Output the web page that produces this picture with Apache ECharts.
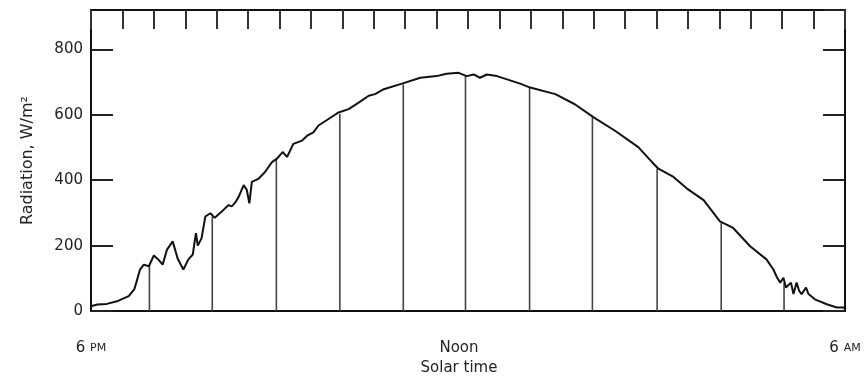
<!DOCTYPE html>
<html>
<head>
<meta charset="utf-8">
<script src="https://cdn.jsdelivr.net/npm/echarts@6/dist/echarts.min.js"></script>
<style>
html,body{margin:0;padding:0;background:#fff;}
#chart{width:864px;height:381px;}
</style>
</head>
<body>
<div id="chart"></div>
<script>
// Solar time in hours after the left edge (6 PM label) and measured radiation, W/m2
const hours = [0, 0.10, 0.25, 0.43, 0.60, 0.69, 0.74, 0.78, 0.84, 0.92, 1.00, 1.07, 1.14, 1.21, 1.30, 1.38, 1.47, 1.55, 1.62, 1.67, 1.70, 1.76, 1.82, 1.90, 1.97, 2.08, 2.19, 2.24, 2.30, 2.35, 2.43, 2.48, 2.52, 2.56, 2.67, 2.77, 2.88, 2.96, 3.05, 3.12, 3.22, 3.36, 3.44, 3.54, 3.62, 3.78, 3.94, 4.10, 4.26, 4.42, 4.52, 4.66, 4.95, 5.24, 5.50, 5.66, 5.85, 5.98, 6.09, 6.19, 6.30, 6.46, 6.67, 6.83, 6.99, 7.39, 7.70, 8.00, 8.34, 8.71, 8.93, 9.03, 9.27, 9.48, 9.75, 10.01, 10.22, 10.49, 10.75, 10.86, 10.92, 10.97, 11.02, 11.06, 11.14, 11.18, 11.23, 11.27, 11.31, 11.38, 11.42, 11.52, 11.71, 11.87, 11.97, 12.00];
const radiation = [15, 20, 22, 31, 46, 67, 100, 127, 142, 137, 170, 158, 142, 188, 213, 160, 127, 158, 173, 238, 200, 223, 289, 299, 285, 304, 324, 320, 333, 349, 385, 370, 329, 395, 405, 425, 455, 466, 486, 471, 511, 521, 536, 546, 567, 587, 607, 617, 637, 658, 663, 678, 695, 713, 718, 725, 728, 718, 723, 713, 723, 718, 705, 695, 683, 663, 632, 592, 551, 501, 455, 435, 410, 375, 339, 274, 254, 198, 158, 127, 102, 87, 102, 72, 87, 52, 87, 62, 52, 72, 52, 36, 21, 11, 11, 9];
// hourly drop lines
const dropHours = [0.93, 1.93, 2.95, 3.96, 4.97, 5.96, 6.98, 7.98, 9.01, 10.03, 11.03];
const dropValues = [140, 289, 466, 602, 693, 721, 683, 592, 435, 269, 87];
// axis labels
const xTickLabels = {0: '6 {s|PM}', 6: '{n|Noon}', 12: '6 {s|AM}'};
const yTicks = [0, 200, 400, 600, 800];

const FONT = 'DejaVu Sans';
const curve = hours.map((h, i) => [h, radiation[i]]);
const drops = dropHours.map((h, i) => [h, dropValues[i]]);

const chart = echarts.init(document.getElementById('chart'), null, {renderer: 'canvas'});
chart.setOption({
  animation: false,
  backgroundColor: '#fff',
  grid: {left: 91, right: 19, top: 10, bottom: 69},
  xAxis: [
    {
      type: 'value', position: 'bottom', min: 0, max: 12, interval: 6,
      axisLine: {show: true, onZero: false, lineStyle: {color: '#111', width: 2}},
      axisTick: {show: false},
      splitLine: {show: false},
      axisLabel: {
        margin: 30, color: '#222', fontFamily: FONT, fontSize: 15,
        formatter: v => xTickLabels[v] || '',
        rich: {
          s: {fontFamily: FONT, fontSize: 11, color: '#222'},
          n: {fontFamily: FONT, fontSize: 15, color: '#222', padding: [0, 18, 0, 0]}
        }
      },
      name: 'Solar time', nameLocation: 'middle', nameGap: 47,
      nameTextStyle: {fontFamily: FONT, fontSize: 15, color: '#222', padding: [0, 18, 0, 0]}
    },
    {
      type: 'value', position: 'top', min: 0, max: 12, interval: 0.5,
      axisLine: {show: true, onZero: false, lineStyle: {color: '#111', width: 2}},
      axisTick: {show: true, inside: true, length: 19, lineStyle: {color: '#333', width: 2}},
      axisLabel: {show: false},
      splitLine: {show: false}
    }
  ],
  yAxis: [
    {
      type: 'value', position: 'left', min: 0, max: 920, interval: 200,
      axisLine: {show: true, onZero: false, lineStyle: {color: '#111', width: 2}},
      axisTick: {show: true, inside: true, length: 22, lineStyle: {color: '#222', width: 2}},
      splitLine: {show: false},
      axisLabel: {
        margin: 8, color: '#222', fontFamily: FONT, fontSize: 15, showMaxLabel: false,
        formatter: v => yTicks.indexOf(v) >= 0 ? String(v) : ''
      },
      name: 'Radiation, W/m²', nameLocation: 'middle', nameGap: 55,
      nameTextStyle: {fontFamily: FONT, fontSize: 16, color: '#222'}
    },
    {
      type: 'value', position: 'right', min: 0, max: 920, interval: 200,
      axisLine: {show: true, onZero: false, lineStyle: {color: '#111', width: 2}},
      axisTick: {show: true, inside: true, length: 22, lineStyle: {color: '#222', width: 2}},
      axisLabel: {show: false},
      splitLine: {show: false}
    }
  ],
  series: [
    {
      type: 'bar', xAxisIndex: 0, yAxisIndex: 0, data: drops,
      barWidth: 1.6, itemStyle: {color: '#444'}, silent: true
    },
    {
      type: 'line', xAxisIndex: 0, yAxisIndex: 0, data: curve,
      showSymbol: false, smooth: false,
      lineStyle: {color: '#111', width: 2}
    }
  ]
});
</script>
</body>
</html>
